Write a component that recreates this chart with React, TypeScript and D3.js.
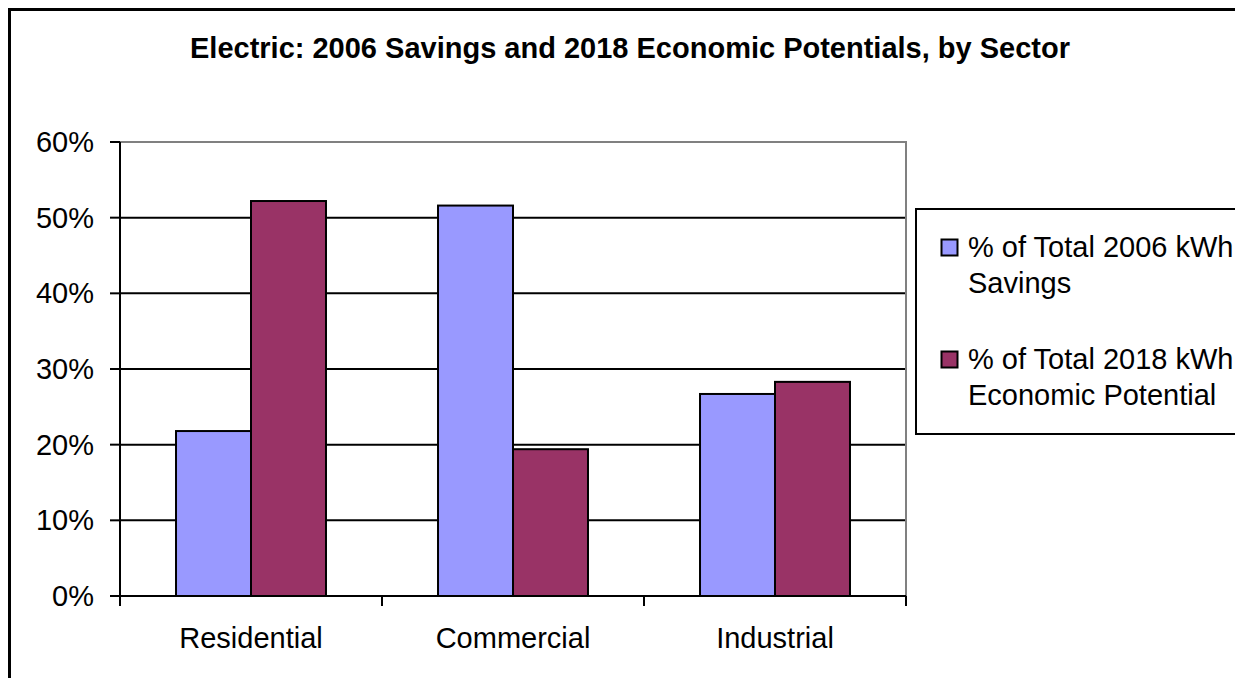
import React from "react";
import * as d3 from "d3";

const categories = ["Residential", "Commercial", "Industrial"];
const seriesNames = ["% of Total 2006 kWh Savings", "% of Total 2018 kWh Economic Potential"];
const savings2006 = [0.218, 0.516, 0.267];
const potential2018 = [0.522, 0.194, 0.283];
const yTicks = [0, 0.1, 0.2, 0.3, 0.4, 0.5, 0.6];
const legendLines = [["% of Total 2006 kWh", "Savings"], ["% of Total 2018 kWh", "Economic Potential"]];
const colors = ["#9999FF", "#993366"];
const title = "Electric: 2006 Savings and 2018 Economic Potentials, by Sector";

const W = 1235;
const H = 678;
const plot = { left: 120, right: 906, top: 142, bottom: 596 };
const FONT = "Arial, 'Liberation Sans', sans-serif";
const FS = 29;

export default function App() {
  const x0 = d3.scaleBand<string>().domain(categories).range([plot.left, plot.right]).paddingInner(0).paddingOuter(0);
  const x1 = d3.scaleBand<string>().domain(seriesNames).range([0, x0.bandwidth()]).paddingInner(0).paddingOuter(0.747);
  const y = d3.scaleLinear().domain([0, 0.6]).range([plot.bottom, plot.top]);
  const fmt = d3.format(".0%");
  const series = [savings2006, potential2018];
  const catTicks = [...categories.map((c) => x0(c) as number), plot.right];

  return (
    <svg width={W} height={H} style={{ position: "absolute", left: 0, top: 0, background: "#fff" }} fontFamily={FONT}>
      <rect x={0} y={0} width={W} height={H} fill="#fff" />
      <rect x={9.5} y={9.5} width={W + 20} height={H + 20} fill="none" stroke="#000" strokeWidth={3} />
      <text x={630} y={58} textAnchor="middle" fontSize={FS} fontWeight="bold" fill="#000">{title}</text>

      {/* plot area border (grey) */}
      <rect x={plot.left} y={plot.top} width={plot.right - plot.left} height={plot.bottom - plot.top} fill="none" stroke="#808080" strokeWidth={2} />

      {/* gridlines */}
      {yTicks.filter((t) => t > 0 && t < 0.6).map((t) => (
        <line key={"g" + t} x1={plot.left} x2={plot.right - 1} y1={y(t)} y2={y(t)} stroke="#000" strokeWidth={2} />
      ))}

      {/* bars */}
      {categories.map((c, i) =>
        seriesNames.map((s, j) => {
          const v = series[j][i];
          const bx = (x0(c) as number) + (x1(s) as number);
          return (
            <rect key={c + s} x={bx} y={y(v)} width={x1.bandwidth()} height={y(0) - y(v)} fill={colors[j]} stroke="#000" strokeWidth={2} />
          );
        })
      )}

      {/* y axis */}
      <line x1={plot.left} x2={plot.left} y1={plot.top} y2={plot.bottom} stroke="#000" strokeWidth={2} />
      {yTicks.map((t) => (
        <g key={"t" + t}>
          <line x1={plot.left - 10} x2={plot.left} y1={y(t)} y2={y(t)} stroke="#000" strokeWidth={2} />
          <text x={94} y={y(t) + 10} textAnchor="end" fontSize={FS} fill="#000">{fmt(t)}</text>
        </g>
      ))}

      {/* x axis */}
      <line x1={plot.left} x2={plot.right} y1={plot.bottom} y2={plot.bottom} stroke="#000" strokeWidth={2} />
      {catTicks.map((tx, i) => (
        <line key={"xt" + i} x1={tx} x2={tx} y1={plot.bottom} y2={plot.bottom + 10} stroke="#000" strokeWidth={2} />
      ))}
      {categories.map((c) => (
        <text key={"xl" + c} x={(x0(c) as number) + x0.bandwidth() / 2} y={648} textAnchor="middle" fontSize={FS} fill="#000">{c}</text>
      ))}

      {/* legend */}
      <rect x={916} y={209} width={W} height={225} fill="#fff" stroke="#000" strokeWidth={2} />
      {legendLines.map((lines, j) => (
        <g key={"lg" + j}>
          <rect x={941.5} y={239.5 + j * 112} width={16} height={16} fill={colors[j]} stroke="#000" strokeWidth={2} />
          {lines.map((ln, k) => (
            <text key={k} x={968} y={257 + j * 112 + k * 36} fontSize={FS} fill="#000">{ln}</text>
          ))}
        </g>
      ))}
    </svg>
  );
}
